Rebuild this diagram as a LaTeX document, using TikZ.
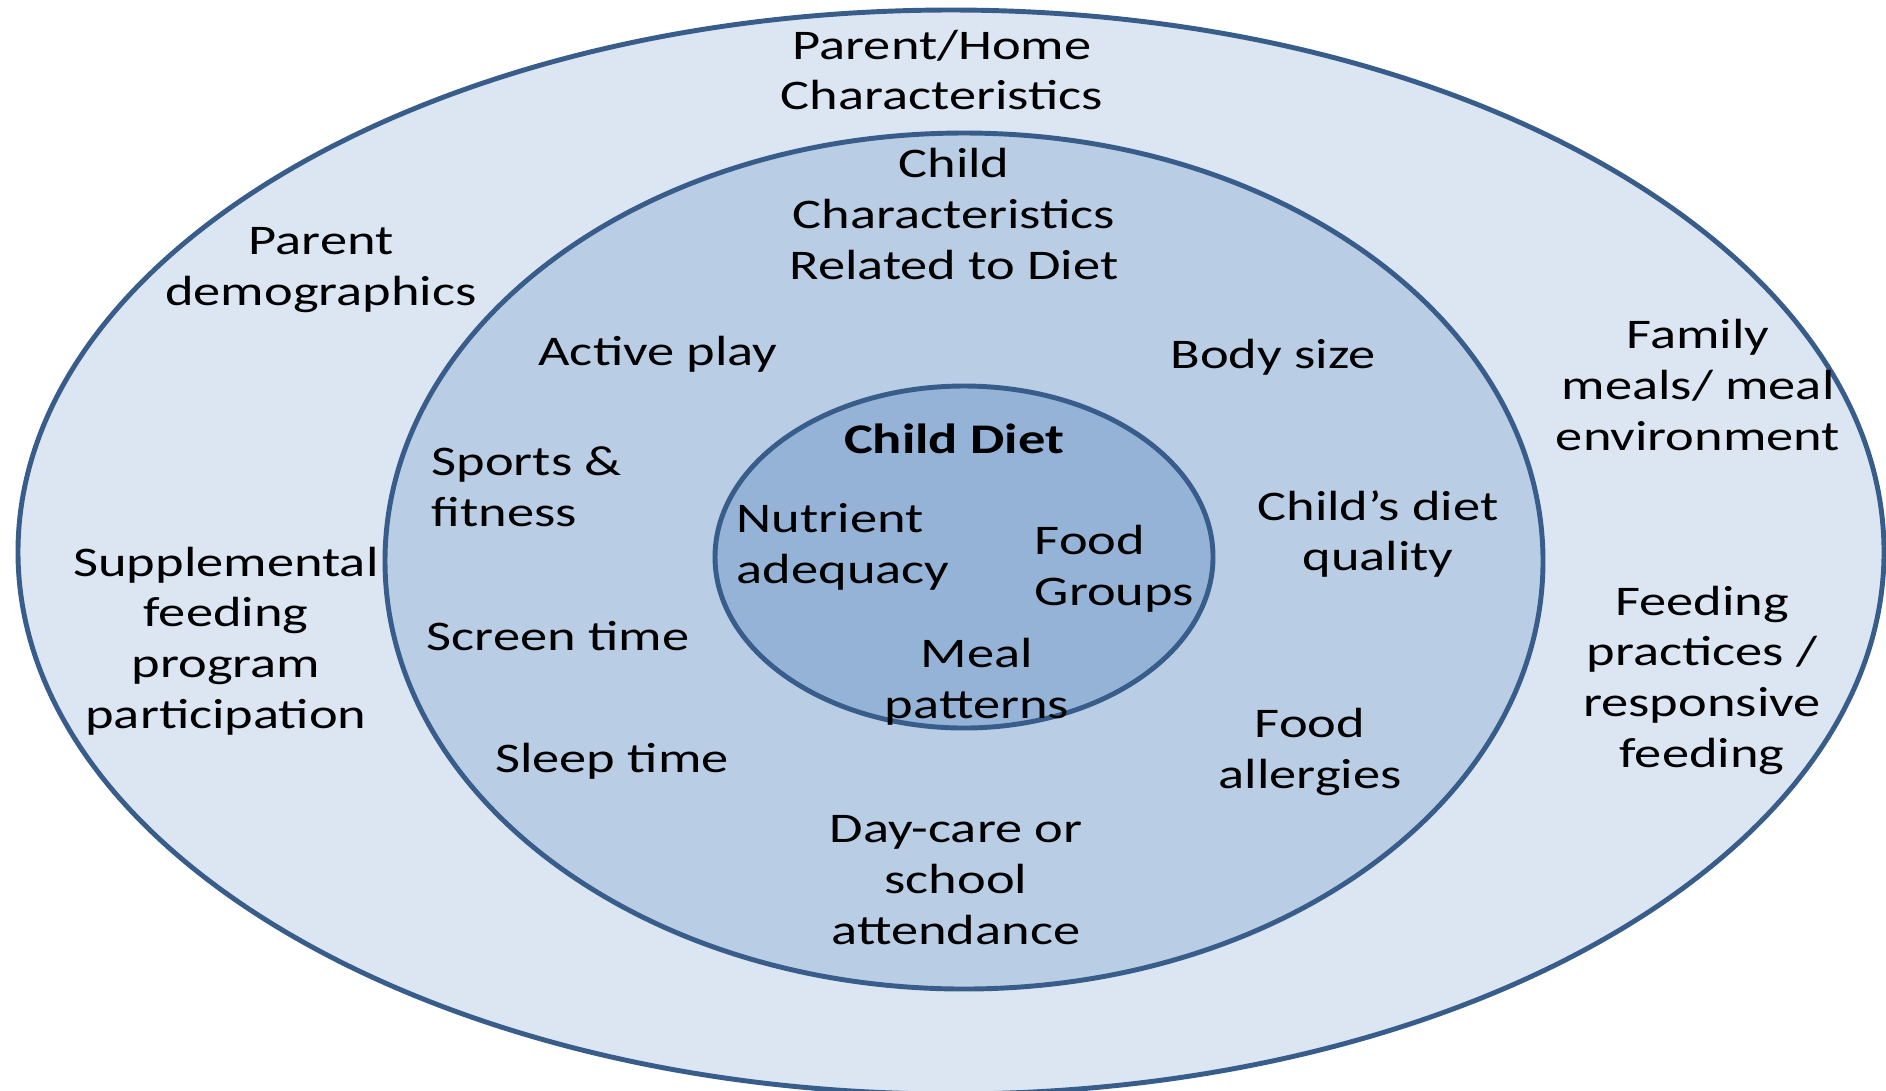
\documentclass[tikz,border=0pt]{standalone}
\usepackage{fontspec}
\setmainfont{Carlito}[FakeStretch=1.29]
\usepackage{xcolor}
\usepackage{tikz}
\definecolor{ringout}{HTML}{DCE6F2}
\definecolor{ringmid}{HTML}{B9CDE5}
\definecolor{ringin}{HTML}{95B3D7}
\definecolor{ringline}{HTML}{385D8A}
\tikzset{ring/.style={draw=ringline, line width=1.4pt},
  lbl/.style={align=center, font=\fontsize{12}{14.4}\selectfont, text=black, inner sep=0pt}}

\begin{document}
\begin{tikzpicture}[x=0.01cm,y=-0.01cm]
\useasboundingbox (0,0) rectangle (1886,1090);
\draw[ring, fill=ringout] (951,552) ellipse [x radius=933, y radius=542];
\draw[ring, fill=ringmid] (964,561) ellipse [x radius=579, y radius=428];
\draw[ring, fill=ringin]  (964,557) ellipse [x radius=249, y radius=171];

\node[lbl] (phome) at (942,70) {Parent/Home\\Characteristics};
\node[lbl] (pdemo) at (321,270) {Parent\\demographics};
\node[lbl] (family) at (1698,385) {Family\\meals/ meal\\environment};
\node[lbl] (suppl) at (226,641) {Supplemental\\feeding\\program\\participation};
\node[lbl] (feeding) at (1702,680) {Feeding\\practices /\\responsive\\feeding};

\node[lbl] (cchar) at (954,214) {Child\\Characteristics\\Related to Diet};
\node[lbl] (active) at (658,354) {Active play};
\node[lbl] (body) at (1273,357) {Body size};
\node[lbl, align=left, anchor=west] (sports) at (431,487) {Sports \&\\fitness};
\node[lbl] (quality) at (1378,534) {Child’s diet\\quality};
\node[lbl] (screen) at (558,636) {Screen time};
\node[lbl] (sleep) at (612,761) {Sleep time};
\node[lbl] (allerg) at (1310,752) {Food\\allergies};
\node[lbl] (daycare) at (956,880) {Day-care or\\school\\attendance};

\node[lbl, font=\fontsize{12}{14.4}\selectfont\bfseries] (diet) at (954,439) {Child Diet};
\node[lbl, align=left, anchor=west] (nutr) at (736,547) {Nutrient\\adequacy};
\node[lbl, align=left, anchor=west] (food) at (1034,569) {Food\\Groups};
\node[lbl] (meal) at (977,682) {Meal\\patterns};
\end{tikzpicture}
\end{document}
